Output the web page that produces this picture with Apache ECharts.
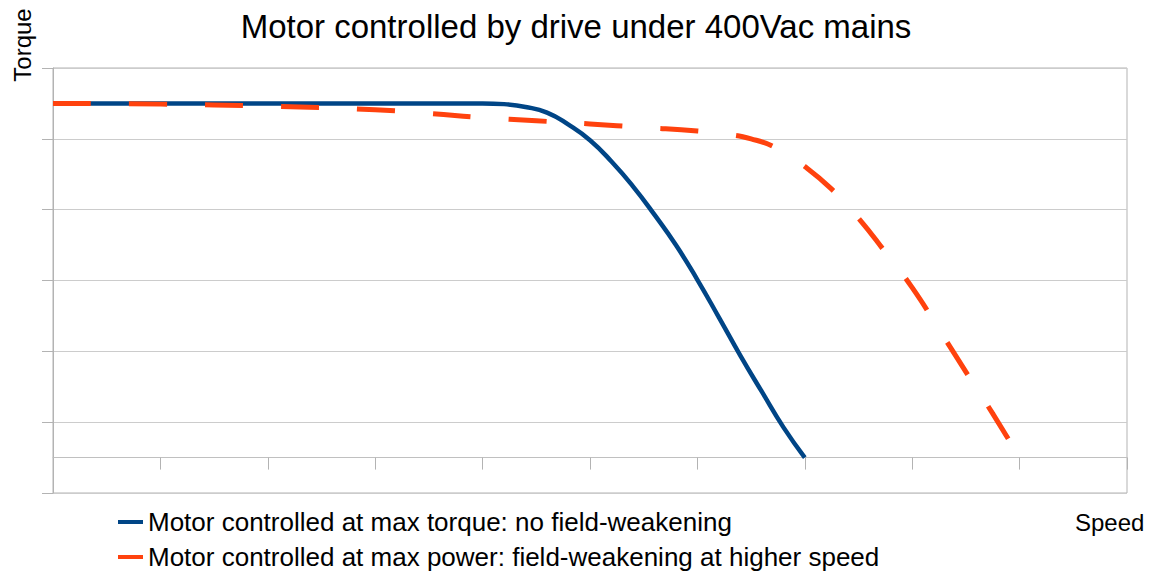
<!DOCTYPE html>
<html>
<head>
<meta charset="utf-8">
<script src="https://cdn.jsdelivr.net/npm/echarts@6/dist/echarts.min.js"></script>
<style>
html,body{margin:0;padding:0;background:#fff;}
#chart{width:1152px;height:573px;}
</style>
</head>
<body>
<div id="chart"></div>
<script>
const chartTitle = 'Motor controlled by drive under 400Vac mains';
const seriesNames = [
  'Motor controlled at max torque: no field-weakening',
  'Motor controlled at max power: field-weakening at higher speed'
];
const xAxisName = 'Speed';
const yAxisName = 'Torque';

const torqueSpeed = [0, 1, 2, 3, 4, 4.2, 4.4, 4.6, 4.8, 5.0, 5.2, 5.4, 5.6, 5.8, 6.0, 6.2, 6.4, 6.6, 6.8, 7.0];
const torqueValues = [5, 5, 5, 5, 5, 4.99, 4.95, 4.87, 4.70, 4.48, 4.18, 3.83, 3.43, 3.00, 2.51, 1.98, 1.44, 0.93, 0.43, 0];

const powerSpeed = [0, 1, 2, 3, 3.5, 4, 4.5, 5, 5.5, 6, 6.25, 6.5, 6.75, 7.0, 7.25, 7.5, 7.75, 8.0, 8.25, 8.5, 8.75, 9.0];
const powerValues = [5.0, 4.99, 4.96, 4.91, 4.86, 4.80, 4.755, 4.71, 4.66, 4.61, 4.57, 4.50, 4.36, 4.11, 3.79, 3.38, 2.90, 2.40, 1.81, 1.21, 0.62, 0];

const pairs = (xs, ys) => xs.map((x, i) => [x, ys[i]]);

const chart = echarts.init(document.getElementById('chart'), null, {renderer: 'svg'});
const font = '"Liberation Sans", Arial, sans-serif';
const legendBase = {
  left: 113,
  itemWidth: 25,
  itemHeight: 4,
  icon: 'rect',
  itemStyle: {borderWidth: 0},
  textStyle: {fontFamily: font, fontSize: 26, color: '#000', lineHeight: 26}
};
chart.setOption({
  animation: false,
  backgroundColor: '#ffffff',
  title: {
    text: chartTitle,
    left: 'center',
    top: 5,
    textStyle: {fontFamily: font, fontSize: 33, fontWeight: 'normal', color: '#000'}
  },
  legend: [
    Object.assign({}, legendBase, {top: 504, data: [seriesNames[0]]}),
    Object.assign({}, legendBase, {top: 539, data: [seriesNames[1]]})
  ],
  grid: {
    left: 53, right: 25, top: 68, bottom: 80,
    show: true, borderColor: '#b3b3b3', borderWidth: 1
  },
  xAxis: {
    type: 'value', min: 0, max: 10, interval: 1,
    axisLine: {show: true, onZero: true, lineStyle: {color: '#c0c0c0', width: 1}},
    axisTick: {show: true, length: 12, lineStyle: {color: '#b3b3b3'}},
    axisLabel: {show: false},
    splitLine: {show: false}
  },
  yAxis: {
    type: 'value', min: -0.5, max: 5.5, interval: 1,
    axisLine: {show: true, lineStyle: {color: '#b3b3b3'}},
    axisTick: {show: true, length: 11, lineStyle: {color: '#b3b3b3'}},
    axisLabel: {show: false},
    splitLine: {show: true, lineStyle: {color: '#cccccc', width: 1}}
  },
  graphic: [
    {type: 'text', x: 1075, y: 522, style: {text: xAxisName, fontFamily: font, fontSize: 24, fill: '#000', align: 'left', verticalAlign: 'middle'}},
    {type: 'text', x: 22, y: 45, rotation: Math.PI / 2, style: {text: yAxisName, fontFamily: font, fontSize: 24, fill: '#000', align: 'center', verticalAlign: 'middle'}}
  ],
  series: [
    {
      name: seriesNames[0], type: 'line', data: pairs(torqueSpeed, torqueValues),
      showSymbol: false, smooth: 0.5, color: '#004586',
      lineStyle: {color: '#004586', width: 4.5}
    },
    {
      name: seriesNames[1], type: 'line', data: pairs(powerSpeed, powerValues),
      showSymbol: false, smooth: 0.5, color: '#ff420e',
      lineStyle: {color: '#ff420e', width: 5, type: [38, 38]}
    }
  ]
});
</script>
</body>
</html>
